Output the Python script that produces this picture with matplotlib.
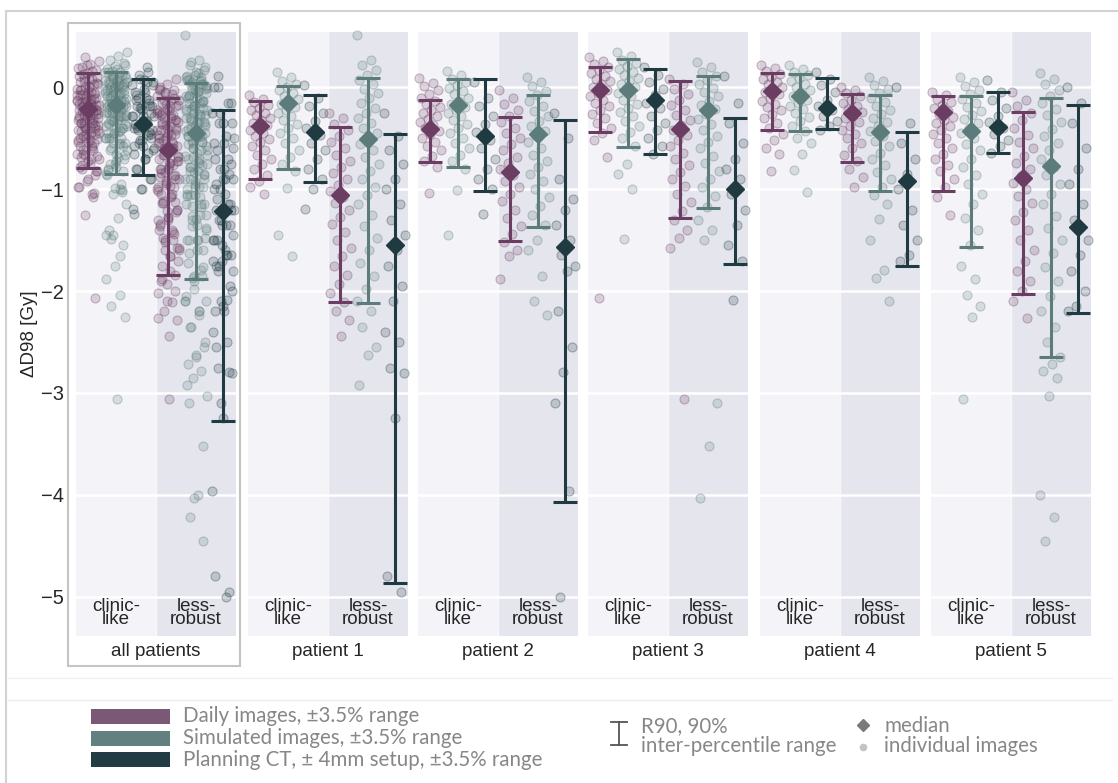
import numpy as np
import matplotlib.pyplot as plt
from matplotlib.patches import Rectangle
from matplotlib.lines import Line2D
from matplotlib.colors import to_rgba

# panels and the two scenario columns inside each one
panels = ['all patients', 'patient 1', 'patient 2', 'patient 3', 'patient 4', 'patient 5']
scenarios = ['clinic-\nlike', 'less-\nrobust']

# median and R90 limits, ordered panel by panel: clinic-like, less-robust
daily_med = [-0.21, -0.62, -0.38, -1.06, -0.41, -0.83, -0.03, -0.41, -0.04, -0.25, -0.24, -0.89]
daily_lo = [-0.79, -1.84, -0.90, -2.11, -0.73, -1.51, -0.44, -1.28, -0.42, -0.73, -1.02, -2.03]
daily_hi = [0.14, -0.10, -0.13, -0.39, -0.12, -0.29, 0.20, 0.06, 0.14, -0.07, -0.09, -0.24]
sim_med = [-0.17, -0.45, -0.15, -0.51, -0.17, -0.46, -0.03, -0.22, -0.09, -0.44, -0.43, -0.77]
sim_lo = [-0.85, -1.88, -0.80, -2.12, -0.78, -1.37, -0.59, -1.18, -0.43, -1.02, -1.57, -2.65]
sim_hi = [0.15, 0.04, 0.01, 0.09, 0.08, -0.08, 0.28, 0.11, 0.13, -0.08, -0.09, -0.10]
plan_med = [-0.36, -1.21, -0.44, -1.55, -0.48, -1.57, -0.12, -1.00, -0.20, -0.92, -0.39, -1.37]
plan_lo = [-0.86, -3.27, -0.93, -4.86, -1.02, -4.07, -0.65, -1.73, -0.41, -1.75, -0.64, -2.21]
plan_hi = [0.08, -0.22, -0.08, -0.46, 0.08, -0.32, 0.18, -0.30, 0.09, -0.44, -0.05, -0.17]

# individual images per patient (delta D98 in Gy), patient 1..5: clinic-like, less-robust
daily_pts = [
    [-0.08, -0.11, -0.14, -0.17, -0.2, -0.22, -0.25, -0.27, -0.3, -0.32, -0.35, -0.37, -0.4, -0.42, -0.45, -0.48,
     -0.51, -0.54, -0.58, -0.62, -0.66, -0.7, -0.75, -0.8, -0.86, -0.92, -0.98, -1.05],
    [-0.25, -0.3, -0.36, -0.42, -0.48, -0.54, -0.6, -0.66, -0.72, -0.78, -0.84, -0.9, -0.96, -1.02, -1.08, -1.14,
     -1.2, -1.27, -1.34, -1.42, -1.5, -1.58, -1.66, -1.75, -1.84, -1.93, -2.02, -2.11, -2.2, -2.28, -2.44],
    [0.09, 0.04, 0.01, -0.03, -0.07, -0.1, -0.13, -0.16, -0.19, -0.22, -0.25, -0.28, -0.31, -0.34, -0.37, -0.4,
     -0.43, -0.46, -0.5, -0.54, -0.58, -0.62, -0.67, -0.72, -0.78, -1.04],
    [-0.03, -0.1, -0.16, -0.22, -0.28, -0.34, -0.4, -0.45, -0.5, -0.56, -0.62, -0.68, -0.74, -0.8, -0.86, -0.92,
     -0.98, -1.05, -1.12, -1.2, -1.28, -1.36, -1.44, -1.52, -1.6, -1.66, -1.88],
    [0.3, 0.26, 0.23, 0.2, 0.17, 0.14, 0.11, 0.08, 0.06, 0.03, 0.0, -0.03, -0.06, -0.09, -0.12, -0.15, -0.18, -0.22,
     -0.26, -0.3, -0.35, -0.4, -0.45, -0.52, -0.68, -2.07],
    [0.08, 0.03, -0.02, -0.07, -0.12, -0.17, -0.22, -0.27, -0.32, -0.37, -0.42, -0.47, -0.52, -0.58, -0.64, -0.7,
     -0.76, -0.83, -0.9, -0.97, -1.05, -1.13, -1.21, -1.3, -1.4, -1.48, -1.58, -3.06],
    [0.22, 0.19, 0.16, 0.13, 0.1, 0.08, 0.05, 0.03, 0.0, -0.02, -0.05, -0.07, -0.1, -0.13, -0.16, -0.19, -0.22, -0.26,
     -0.3, -0.35, -0.4, -0.46, -0.52, -0.6, -0.65, -0.82],
    [0.0, -0.03, -0.06, -0.09, -0.12, -0.15, -0.18, -0.21, -0.24, -0.27, -0.3, -0.34, -0.38, -0.42, -0.46, -0.5,
     -0.55, -0.6, -0.66, -0.72, -0.8, -0.88, -0.98],
    [-0.05, -0.08, -0.11, -0.14, -0.17, -0.2, -0.23, -0.26, -0.29, -0.32, -0.35, -0.38, -0.42, -0.46, -0.5, -0.55,
     -0.6, -0.65, -0.7, -0.76, -0.82, -0.9, -0.98, -1.08, -1.25],
    [-0.05, -0.12, -0.18, -0.25, -0.32, -0.4, -0.47, -0.54, -0.6, -0.67, -0.74, -0.8, -0.87, -0.94, -1.0, -1.07,
     -1.14, -1.22, -1.3, -1.4, -1.5, -1.6, -1.7, -1.8, -1.9, -2.0, -2.1, -2.26],
]
sim_pts = [
    [0.15, 0.1, 0.06, 0.03, 0.0, -0.03, -0.06, -0.09, -0.11, -0.14, -0.16, -0.19, -0.22, -0.25, -0.28, -0.32, -0.36,
     -0.4, -0.45, -0.5, -0.55, -0.62, -0.68, -0.75, -0.82, -0.99, -1.45, -1.66],
    [0.51, 0.27, 0.22, 0.17, 0.12, 0.07, 0.03, -0.02, -0.06, -0.1, -0.15, -0.2, -0.25, -0.3, -0.35, -0.4, -0.45,
     -0.5, -0.56, -0.62, -0.68, -0.75, -0.82, -0.9, -0.98, -1.06, -1.15, -1.25, -1.36, -1.48, -1.6, -1.72, -1.85,
     -1.98, -2.1, -2.2, -2.35, -2.55, -2.63, -2.92],
    [0.16, 0.12, 0.08, 0.05, 0.02, -0.01, -0.04, -0.07, -0.1, -0.13, -0.16, -0.19, -0.22, -0.25, -0.28, -0.32,
     -0.36, -0.4, -0.45, -0.5, -0.55, -0.6, -0.66, -0.72, -0.8, -1.01, -1.45],
    [0.1, 0.05, 0.01, -0.04, -0.08, -0.13, -0.18, -0.23, -0.28, -0.33, -0.38, -0.43, -0.48, -0.54, -0.6, -0.66,
     -0.72, -0.78, -0.85, -0.92, -1.0, -1.08, -1.16, -1.25, -1.35, -1.5, -1.6, -1.85, -2.1, -2.23],
    [0.35, 0.31, 0.27, 0.24, 0.21, 0.18, 0.15, 0.12, 0.09, 0.06, 0.03, 0.0, -0.03, -0.06, -0.09, -0.12, -0.16, -0.2,
     -0.24, -0.28, -0.33, -0.38, -0.44, -0.5, -0.58, -0.75, -0.85, -1.0, -1.49],
    [0.25, 0.2, 0.15, 0.11, 0.07, 0.03, -0.01, -0.05, -0.09, -0.13, -0.17, -0.21, -0.26, -0.31, -0.36, -0.42, -0.48,
     -0.54, -0.6, -0.67, -0.74, -0.82, -0.9, -0.98, -1.07, -1.17, -1.3, -1.4, -1.5, -3.1, -3.52, -4.03],
    [0.22, 0.18, 0.15, 0.12, 0.09, 0.06, 0.03, 0.0, -0.03, -0.06, -0.09, -0.12, -0.15, -0.18, -0.21, -0.25, -0.29,
     -0.33, -0.38, -0.43, -0.5, -0.55, -0.65, -0.81, -1.03],
    [0.1, 0.06, 0.02, -0.02, -0.06, -0.1, -0.14, -0.18, -0.22, -0.26, -0.3, -0.34, -0.38, -0.43, -0.48, -0.53, -0.58,
     -0.64, -0.7, -0.76, -0.83, -0.9, -0.98, -1.06, -1.15, -1.29, -1.5, -1.79, -1.87, -2.1],
    [0.1, 0.05, 0.01, -0.03, -0.07, -0.11, -0.15, -0.19, -0.23, -0.27, -0.31, -0.35, -0.4, -0.45, -0.5, -0.56, -0.62,
     -0.7, -0.78, -0.86, -0.95, -1.05, -1.15, -1.28, -1.4, -1.55, -1.75, -1.88, -2.04, -2.15, -2.25, -3.06],
    [0.14, 0.08, 0.03, -0.03, -0.09, -0.15, -0.21, -0.27, -0.34, -0.41, -0.48, -0.55, -0.62, -0.7, -0.78, -0.86,
     -0.95, -1.05, -1.15, -1.26, -1.38, -1.5, -1.63, -1.76, -1.9, -2.05, -2.2, -2.35, -2.5, -2.65, -2.72, -2.78,
     -2.85, -3.03, -4.0, -4.22, -4.45],
]
plan_pts = [
    [0.02, -0.1, -0.18, -0.25, -0.33, -0.4, -0.47, -0.55, -0.62, -0.7, -0.8, -0.9, -1.0, -1.19],
    [-0.25, -0.48, -0.62, -0.75, -0.9, -1.0, -1.15, -1.3, -1.45, -1.6, -1.75, -1.95, -2.1, -2.4, -2.5, -2.75, -2.8,
     -3.25, -4.8, -4.95],
    [0.05, -0.1, -0.18, -0.28, -0.36, -0.44, -0.52, -0.6, -0.7, -0.8, -0.9, -1.0, -1.24],
    [-0.25, -0.5, -0.9, -1.1, -1.2, -1.35, -1.5, -1.65, -1.75, -1.8, -2.2, -2.55, -2.79, -3.1, -3.96, -5.0],
    [0.2, 0.12, 0.05, -0.02, -0.08, -0.15, -0.2, -0.28, -0.35, -0.42, -0.5, -0.58, -0.65],
    [0.11, -0.15, -0.35, -0.55, -0.7, -0.8, -0.9, -1.05, -1.2, -1.35, -1.55, -1.7, -2.09],
    [0.15, 0.08, 0.02, -0.05, -0.12, -0.18, -0.22, -0.28, -0.33, -0.38, -0.42],
    [0.0, -0.35, -0.55, -0.7, -0.85, -1.0, -1.2, -1.35, -1.5, -1.65, -1.7],
    [0.07, -0.05, -0.12, -0.2, -0.28, -0.34, -0.4, -0.46, -0.52, -0.58, -0.64],
    [0.0, -0.15, -0.35, -0.6, -0.8, -0.95, -1.15, -1.3, -1.5, -1.65, -1.8, -2.0, -2.15, -2.2],
]

legend_labels = ['Daily images, \u00b13.5% range', 'Simulated images, \u00b13.5% range',
                 'Planning CT, \u00b1 4mm setup, \u00b13.5% range']

c_daily = '#6b3d62'
c_sim = '#5b7c7a'
c_plan = '#1f3a41'
patch_cols = ['#7b5876', '#62807f', '#233c44']
bg_clinic = '#f4f3f8'
bg_less = '#e5e5ee'
txt = '#262626'

plt.rcParams['font.family'] = ['Liberation Sans', 'DejaVu Sans']

W, H = 1118, 783
fig = plt.figure(figsize=(W / 100, H / 100), dpi=100)


def fx(px):
    return px / W


def fy(py):
    return 1 - py / H


def pooled(pts):
    # "all patients" column: every image of patients 1-5 together
    return [sum(pts[j::2], []) for j in range(2)]


series = [
    (daily_med, daily_lo, daily_hi, pooled(daily_pts) + daily_pts, c_daily, -0.35),
    (sim_med, sim_lo, sim_hi, pooled(sim_pts) + sim_pts, c_sim, 0.0),
    (plan_med, plan_lo, plan_hi, pooled(plan_pts) + plan_pts, c_plan, 0.34),
]

lefts = [76, 248, 418, 588, 760, 931]
for i, name in enumerate(panels):
    ax = fig.add_axes([fx(lefts[i]), fy(636), 160 / W, (636 - 32) / H])
    ax.set_xlim(0, 2)
    ax.set_ylim(-5.385, 0.543)
    ax.axvspan(0, 1, color=bg_clinic, zorder=0, lw=0)
    ax.axvspan(1, 2, color=bg_less, zorder=0, lw=0)
    ax.axvline(1, color='white', lw=1, alpha=0.7, zorder=0.5)
    for yv in range(-5, 1):
        ax.axhline(yv, color='white', lw=1.8, zorder=0.5)

    for j in range(2):
        k = 2 * i + j
        for med, lo, hi, pts, col, off in series:
            vals = np.array(pts[k])
            n = len(vals)
            jit = ((np.arange(n) * 0.618034) % 1 - 0.5) * 0.28
            ax.scatter(j + 0.5 + off + jit, vals, s=42, facecolor=to_rgba(col, 0.2),
                       edgecolor=to_rgba(col, 0.34), lw=0.8, zorder=2, clip_on=False)
        for med, lo, hi, pts, col, off in series:
            x = j + 0.5 + off
            ax.errorbar([x], [med[k]], yerr=[[med[k] - lo[k]], [hi[k] - med[k]]], fmt='none',
                        ecolor=col, elinewidth=2.2, capsize=8.5, capthick=2.2, zorder=3)
            ax.plot([x], [med[k]], marker='D', ms=9, color=col, mec=col, zorder=4)
        ax.text(j + 0.5, -5.16, scenarios[j], ha='center', va='center', fontsize=13.5,
                linespacing=0.72, color=txt, zorder=5)

    for s in ax.spines.values():
        s.set_visible(False)
    ax.set_xticks([])
    ax.set_yticks(range(-5, 1))
    ax.tick_params(length=0, pad=9, labelsize=14.5, colors=txt)
    if i > 0:
        ax.set_yticklabels([])
    fig.text(fx(lefts[i] + 80), fy(651), name, ha='center', va='center', fontsize=13.5, color=txt)

fig.text(fx(30), fy(334), '\u0394D98 [Gy]', rotation=90, ha='center', va='center', fontsize=13.5, color=txt)

# frame around the pooled panel
fig.patches.append(Rectangle((fx(68), fy(666)), fx(240) - fx(68), fy(23) - fy(666), transform=fig.transFigure,
                             fill=False, ec='#c4c4c4', lw=1.5))

# outer border and legend separator
fig.lines.append(Line2D([fx(6), fx(6)], [fy(11), 0], transform=fig.transFigure, color='#d2d2d2', lw=1.5))
fig.lines.append(Line2D([fx(6), 1], [fy(11), fy(11)], transform=fig.transFigure, color='#d2d2d2', lw=1.5))
fig.lines.append(Line2D([fx(8), fx(1112)], [fy(678), fy(678)], transform=fig.transFigure, color='#f0f0f0', lw=1))
fig.lines.append(Line2D([fx(8), fx(1112)], [fy(700), fy(700)], transform=fig.transFigure, color='#ececec', lw=1))

# legend
lg_font = ['Lato', 'DejaVu Sans']
lg_col = '#878787'
lg_size = 14.8
for r, (lab, pc) in enumerate(zip(legend_labels, patch_cols)):
    top = 709 + r * 21.5
    fig.patches.append(Rectangle((fx(91), fy(top + 15)), fx(170) - fx(91), fy(top) - fy(top + 15),
                                 transform=fig.transFigure, color=pc, lw=0))
    fig.text(fx(183), fy(top + 7.5), lab, ha='left', va='center', fontsize=lg_size, color=lg_col, family=lg_font)

fig.lines.append(Line2D([fx(611), fx(627)], [fy(722), fy(722)], transform=fig.transFigure, color='#555555', lw=1.3))
fig.lines.append(Line2D([fx(611), fx(627)], [fy(745), fy(745)], transform=fig.transFigure, color='#555555', lw=1.3))
fig.lines.append(Line2D([fx(619), fx(619)], [fy(722), fy(745)], transform=fig.transFigure, color='#555555', lw=1.3))
fig.text(fx(641), fy(726), 'R90, 90%', ha='left', va='center', fontsize=lg_size, color=lg_col, family=lg_font)
fig.text(fx(641), fy(746), 'inter-percentile range', ha='left', va='center', fontsize=lg_size, color=lg_col,
         family=lg_font)
fig.lines.append(Line2D([fx(863)], [fy(725)], transform=fig.transFigure, marker='D', ms=6, color='#7a7a7a', lw=0))
fig.lines.append(Line2D([fx(863)], [fy(747)], transform=fig.transFigure, marker='o', ms=4.5, color='#c4c4c4', lw=0))
fig.text(fx(884), fy(726), 'median', ha='left', va='center', fontsize=lg_size, color=lg_col, family=lg_font)
fig.text(fx(884), fy(746), 'individual images', ha='left', va='center', fontsize=lg_size, color=lg_col,
         family=lg_font)

fig.savefig('out.png', dpi=100)
